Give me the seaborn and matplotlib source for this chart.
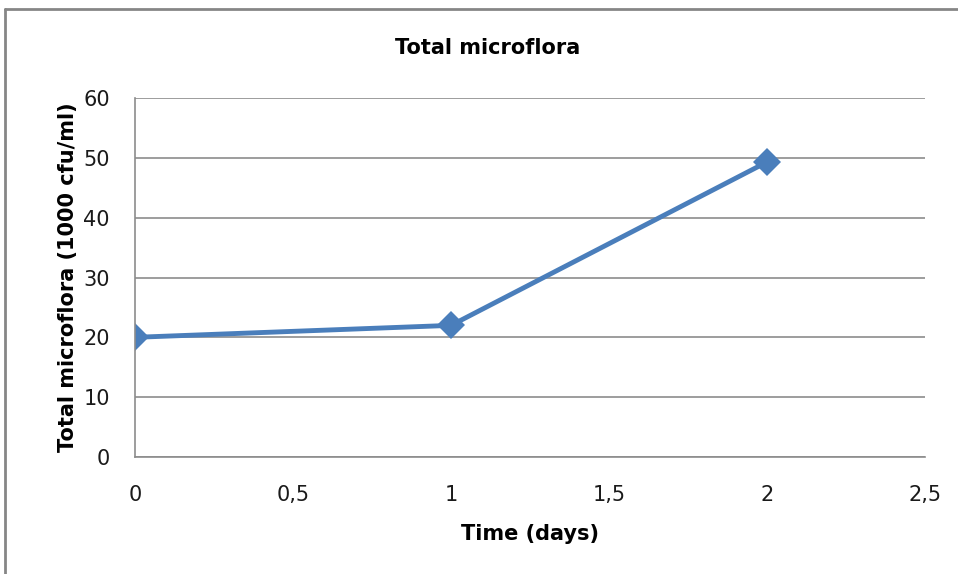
import matplotlib
matplotlib.use("Agg")
import matplotlib.pyplot as plt
from matplotlib.lines import Line2D
from matplotlib.ticker import FuncFormatter
import seaborn as sns
import pandas as pd

days = [0, 1, 2]
microflora = [20, 22, 49.3]
y_ticks = [0, 10, 20, 30, 40, 50, 60]
x_ticks = [0, 0.5, 1, 1.5, 2, 2.5]

sns.set_style("white")
plt.rcParams['font.family'] = ['Liberation Sans Narrow', 'DejaVu Sans']

df = pd.DataFrame({"Time": days, "Total": microflora})

fig = plt.figure(figsize=(9.58, 5.74), dpi=100)
ax = fig.add_axes([135/958, 1-457/574, (925-135)/958, (457-98)/574])

sns.lineplot(data=df, x="Time", y="Total", ax=ax, color="#4A7EBB", linewidth=3.5,
             marker="D", markersize=14, markeredgewidth=0, estimator=None)

ax.set_xlim(0, 2.5)
ax.set_ylim(0, 60)
ax.set_xticks(x_ticks)
ax.set_yticks(y_ticks)
ax.xaxis.set_major_formatter(FuncFormatter(lambda v, p: ("%g" % v).replace(".", ",")))
ax.grid(axis="y", color="#8C8C8C", linewidth=1.2)
ax.grid(axis="x", visible=False)
ax.set_axisbelow(True)
for s in ["top", "right"]:
    ax.spines[s].set_visible(False)
for s in ["left", "bottom"]:
    ax.spines[s].set_color("#8C8C8C")
    ax.spines[s].set_linewidth(1.2)
ax.tick_params(axis="both", length=0, labelsize=15, colors="#1a1a1a")
ax.tick_params(axis="x", pad=20)
ax.tick_params(axis="y", pad=18)

ax.set_xlabel("Time (days)", fontsize=15, fontweight="bold", labelpad=14)
ax.set_ylabel("Total microflora (1000 cfu/ml)", fontsize=15, fontweight="bold", labelpad=4)
fig.text(488/958, 1-48/574, "Total microflora", ha="center", va="center",
         fontsize=15, fontweight="bold", color="black")
ax.xaxis.label.set_color("black")
ax.yaxis.label.set_color("black")

# outer chart border (partially cropped)
fig.add_artist(Line2D([5/958, 5/958], [0, 1-9/574], transform=fig.transFigure,
                      color="#868686", linewidth=2))
fig.add_artist(Line2D([5/958, 1], [1-9/574, 1-9/574], transform=fig.transFigure,
                      color="#868686", linewidth=2))

fig.savefig("out.png", dpi=100)
